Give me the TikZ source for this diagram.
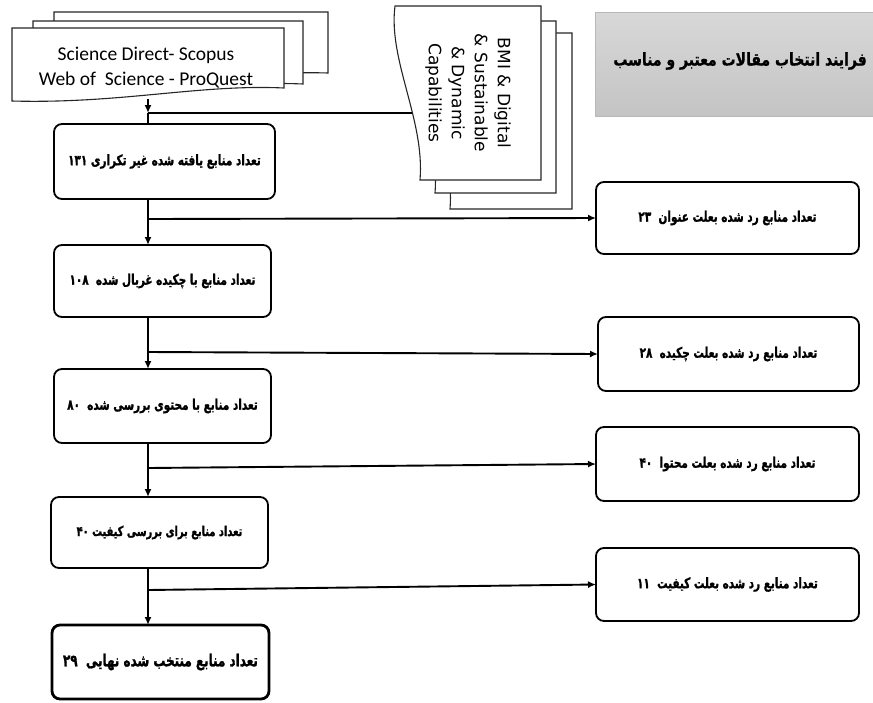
\documentclass[tikz,border=0pt]{standalone}
\usepackage{fontspec}
\usetikzlibrary{arrows.meta}
\TeXXeTstate=1
\newfontfamily\fa[Script=Arabic, FakeStretch=0.72, FakeBold=1.2]{DejaVu Sans}
\newfontfamily\fatitle[Script=Arabic, FakeStretch=0.8, FakeBold=0.8]{DejaVu Sans}
\newfontfamily\lat{Carlito}
\newfontfamily\latb{DejaVu Sans}
\definecolor{titletop}{HTML}{D8D8D8}
\definecolor{titlebot}{HTML}{C4C4C4}
\definecolor{titleedge}{HTML}{B8B8B8}
\tikzset{
  flowbox/.style={draw=black, line width=1.8pt, rounded corners=8pt, fill=white,
    inner sep=0pt, outer sep=0pt, align=center,
    font=\fa\bfseries\fontsize{14.5}{17}\selectfont},
  conn/.style={line width=1.9pt, draw=black},
  tip/.style={-{Latex[length=8pt,width=7pt]}},
  docline/.style={draw=black!85, line width=1.1pt, fill=white},
}
\begin{document}
\begin{tikzpicture}[x=1pt,y=-1pt]
\useasboundingbox (0,0) rectangle (873,702);

% title box
\shade[top color=titletop, bottom color=titlebot, draw=titleedge, line width=0.8pt]
  (595,12) rectangle (880,116);
\node[anchor=east, inner sep=0pt, font=\fatitle\bfseries\fontsize{17.5}{20}\selectfont] (title) at (867,61)
  {\beginR فرایند انتخاب مقالات معتبر و مناسب\endR};

% Science Direct document stack
\path[docline] (54,12) -- (328,12) -- (328,73) .. controls (230,70) and (140,92) .. (54,86) -- cycle;
\path[docline] (33,21) -- (303,21) -- (303,84) .. controls (210,80) and (120,100) .. (33,94) -- cycle;
\path[docline] (12,28) -- (284,28) -- (284,88) .. controls (200,84) and (120,104) .. (12,101) -- cycle;
\node[inner sep=0pt, align=center, font=\lat\fontsize{19.5}{25}\selectfont] (sci) at (146,68)
  {Science Direct- Scopus\\Web of\ \ Science - ProQuest};
\coordinate (scibot) at (148,99);

% BMI document stack (rotated)
\path[docline] (450,33) -- (572,33) -- (572,209) -- (450,209) .. controls (455,150) and (418,88) .. (425,33) -- cycle;
\path[docline] (410,21) -- (556,21) -- (556,193) -- (435,193) .. controls (440,134) and (403,74) .. (410,21) -- cycle;
\path[docline] (395,6) -- (541,6) -- (541,180) -- (420,180) .. controls (425,120) and (388,60) .. (395,6) -- cycle;
\node[rotate=-90, inner sep=0pt, align=center, font=\latb\fontsize{17}{23}\selectfont] (bmi) at (468,93)
  {BMI \& Digital\\\& Sustainable\\\& Dynamic\\Capabilities};
\coordinate (bmiw) at (412,113);

% left column
\node[flowbox, minimum width=221pt, minimum height=75pt] (b1) at (164.5,161.5)
  {\beginR تعداد منابع یافته شده غیر تکراری \beginL۱۳۱\endL\endR};
\node[flowbox, minimum width=217pt, minimum height=72pt] (b2) at (162.5,281)
  {\beginR تعداد منابع با چکیده غربال شده \ \beginL۱۰۸\endL\endR};
\node[flowbox, minimum width=217pt, minimum height=74pt] (b3) at (162.5,406)
  {\beginR تعداد منابع با محتوی بررسی شده \ \beginL۸۰\endL\endR};
\node[flowbox, minimum width=217pt, minimum height=71pt,
  font=\fa\bfseries\fontsize{13.7}{16}\selectfont] (b4) at (159.5,532.5)
  {\beginR تعداد منابع برای بررسی کیفیت \beginL۴۰\endL\endR};
\node[flowbox, line width=2.8pt, minimum width=217pt, minimum height=74pt,
  font=\fa\bfseries\fontsize{16.6}{19}\selectfont] (b5) at (160.5,662)
  {\beginR تعداد منابع منتخب شده نهایی \ \beginL۲۹\endL\endR};

% right column
\node[flowbox, minimum width=263pt, minimum height=72pt] (r1) at (727.5,218)
  {\beginR تعداد منابع رد شده بعلت عنوان \ \beginL۲۳\endL\endR};
\node[flowbox, minimum width=261pt, minimum height=74pt] (r2) at (728.5,354)
  {\beginR تعداد منابع رد شده بعلت چکیده \ \beginL۲۸\endL\endR};
\node[flowbox, minimum width=263pt, minimum height=74pt] (r3) at (727.5,464)
  {\beginR تعداد منابع رد شده بعلت محتوا \ \beginL۴۰\endL\endR};
\node[flowbox, minimum width=263pt, minimum height=73pt] (r4) at (727.5,584.5)
  {\beginR تعداد منابع رد شده بعلت کیفیت \ \beginL۱۱\endL\endR};

% trunk and junctions
\coordinate (t) at (148,0);
\coordinate (j0) at (148,113);
\coordinate (k1) at (148,219);
\coordinate (k2) at (148,352);
\coordinate (k3) at (148,468);
\coordinate (k4) at (148,590);

% connectors
\draw[conn] (bmiw) -- (j0);
\draw[conn, tip] (scibot) -- (j0);
\draw[conn] (j0) -- (b1.north -| t);
\draw[conn, tip] (b1.south -| t) -- (b2.north -| t);
\draw[conn, tip] (b2.south -| t) -- (b3.north -| t);
\draw[conn, tip] (b3.south -| t) -- (b4.north -| t);
\draw[conn, tip] (b4.south -| t) -- (b5.north -| t);
\draw[conn, tip] (k1) -- (r1.west);
\draw[conn, tip] (k2) -- (r2.west);
\draw[conn, tip] (k3) -- (r3.west);
\draw[conn, tip] (k4) -- (r4.west);
\end{tikzpicture}
\end{document}
